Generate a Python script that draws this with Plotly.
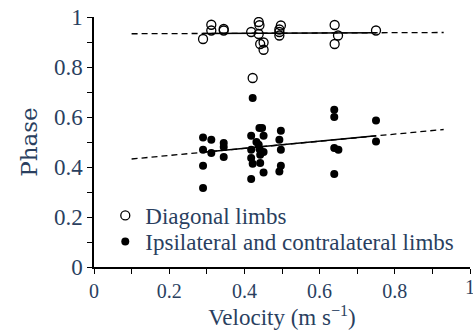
import plotly.graph_objects as go

# Diagonal limbs (open circles)
diag_x = [0.290, 0.312, 0.312, 0.345, 0.345, 0.418, 0.422, 0.438, 0.440, 0.438, 0.442,
          0.451, 0.451, 0.497, 0.493, 0.493, 0.493, 0.640, 0.649, 0.640, 0.750]
diag_y = [0.912, 0.969, 0.946, 0.952, 0.946, 0.940, 0.756, 0.980, 0.967, 0.932, 0.892,
          0.898, 0.869, 0.966, 0.950, 0.940, 0.926, 0.968, 0.926, 0.892, 0.946]

# Ipsilateral and contralateral limbs (filled circles)
ipsi_x = [0.290, 0.290, 0.290, 0.290, 0.312, 0.312, 0.345, 0.345, 0.345,
          0.422, 0.440, 0.418, 0.451, 0.418, 0.438, 0.418, 0.442, 0.422, 0.442,
          0.451, 0.418, 0.447, 0.451, 0.432, 0.440,
          0.497, 0.493, 0.497, 0.497, 0.493,
          0.639, 0.639, 0.639, 0.650, 0.639, 0.750, 0.750]
ipsi_y = [0.518, 0.469, 0.405, 0.316, 0.509, 0.456, 0.496, 0.480, 0.440,
          0.676, 0.556, 0.525, 0.525, 0.469, 0.489, 0.436, 0.449, 0.413, 0.416,
          0.378, 0.352, 0.556, 0.460, 0.500, 0.472,
          0.545, 0.509, 0.469, 0.405, 0.382,
          0.629, 0.600, 0.476, 0.469, 0.372, 0.586, 0.502]

# Regression lines: solid over data range, dashed extrapolation
diag_fit_solid_x = [0.29, 0.75]
diag_fit_solid_y = [0.934, 0.937]
diag_fit_dash_x = [0.10, 0.93]
diag_fit_dash_y = [0.933, 0.938]

ipsi_fit_solid_x = [0.29, 0.75]
ipsi_fit_solid_y = [0.459, 0.525]
ipsi_fit_dash_x = [0.10, 0.93]
ipsi_fit_dash_y = [0.432, 0.550]

# ticks every 0.1, labels every 0.2
tick_vals = [0, 0.1, 0.2, 0.3, 0.4, 0.5, 0.6, 0.7, 0.8, 0.9, 1]
x_tick_text = ["0", "", "0.2", "", "0.4", "", "0.6", "", "0.8", "", ""]
y_tick_text = ["0", "", "0.2", "", "0.4", "", "0.6", "", "0.8", "", "1"]
x_last_label = "1"

F_TNR = "Times New Roman"
F_LIB = "Liberation Serif"
F_DJV = "DejaVu Serif"
FS = 23

fig = go.Figure()

for fx, fy, dash in [(diag_fit_dash_x, diag_fit_dash_y, "6px,4px"),
                     (ipsi_fit_dash_x, ipsi_fit_dash_y, "6px,4px"),
                     (diag_fit_solid_x, diag_fit_solid_y, "solid"),
                     (ipsi_fit_solid_x, ipsi_fit_solid_y, "solid")]:
    fig.add_trace(go.Scatter(x=fx, y=fy, mode="lines", showlegend=False,
                             line=dict(color="black", width=1.3, dash=dash)))

fig.add_trace(go.Scatter(x=diag_x, y=diag_y, mode="markers", name="Diagonal limbs",
                         legend="legend", showlegend=True,
                         marker=dict(symbol="circle-open", size=9, color="black",
                                     line=dict(width=1.3, color="black"))))
fig.add_trace(go.Scatter(x=ipsi_x, y=ipsi_y, mode="markers",
                         name="Ipsilateral and contralateral limbs",
                         legend="legend2", showlegend=True,
                         marker=dict(symbol="circle", size=8, color="black")))

axis_common = dict(showline=True, linecolor="black", linewidth=1.5,
                   ticks="outside", ticklen=5, tickwidth=1.2, tickcolor="black",
                   showgrid=False, zeroline=False, mirror=False)

fig.update_xaxes(range=[0, 1], tickmode="array", tickvals=tick_vals, ticktext=x_tick_text,
                 tickfont=dict(family=F_TNR, size=20),
                 title=dict(text="Velocity (m s<sup>\u22121</sup>)",
                            font=dict(family=F_LIB, size=FS), standoff=6),
                 **axis_common)
fig.update_yaxes(range=[0, 1], tickmode="array", tickvals=tick_vals, ticktext=y_tick_text,
                 tickfont=dict(family=F_TNR, size=FS),
                 title=dict(text="Phase", font=dict(family=F_DJV, size=FS),
                            standoff=10),
                 **axis_common)

fig.add_annotation(x=1, y=0, xref="x", yref="paper", text=x_last_label, showarrow=False,
                   xanchor="center", yanchor="top", yshift=-7,
                   font=dict(family=F_TNR, size=20))

fig.update_layout(
    width=473, height=335,
    margin=dict(l=94, r=3, t=17, b=68, pad=0),
    paper_bgcolor="white", plot_bgcolor="white",
    legend=dict(x=0.03, y=0.206, xanchor="left", yanchor="middle",
                bgcolor="rgba(0,0,0,0)", font=dict(family="serif", size=FS)),
    legend2=dict(x=0.03, y=0.102, xanchor="left", yanchor="middle",
                 bgcolor="rgba(0,0,0,0)", font=dict(family=F_TNR, size=FS)),
)

fig.write_html("out.html")
